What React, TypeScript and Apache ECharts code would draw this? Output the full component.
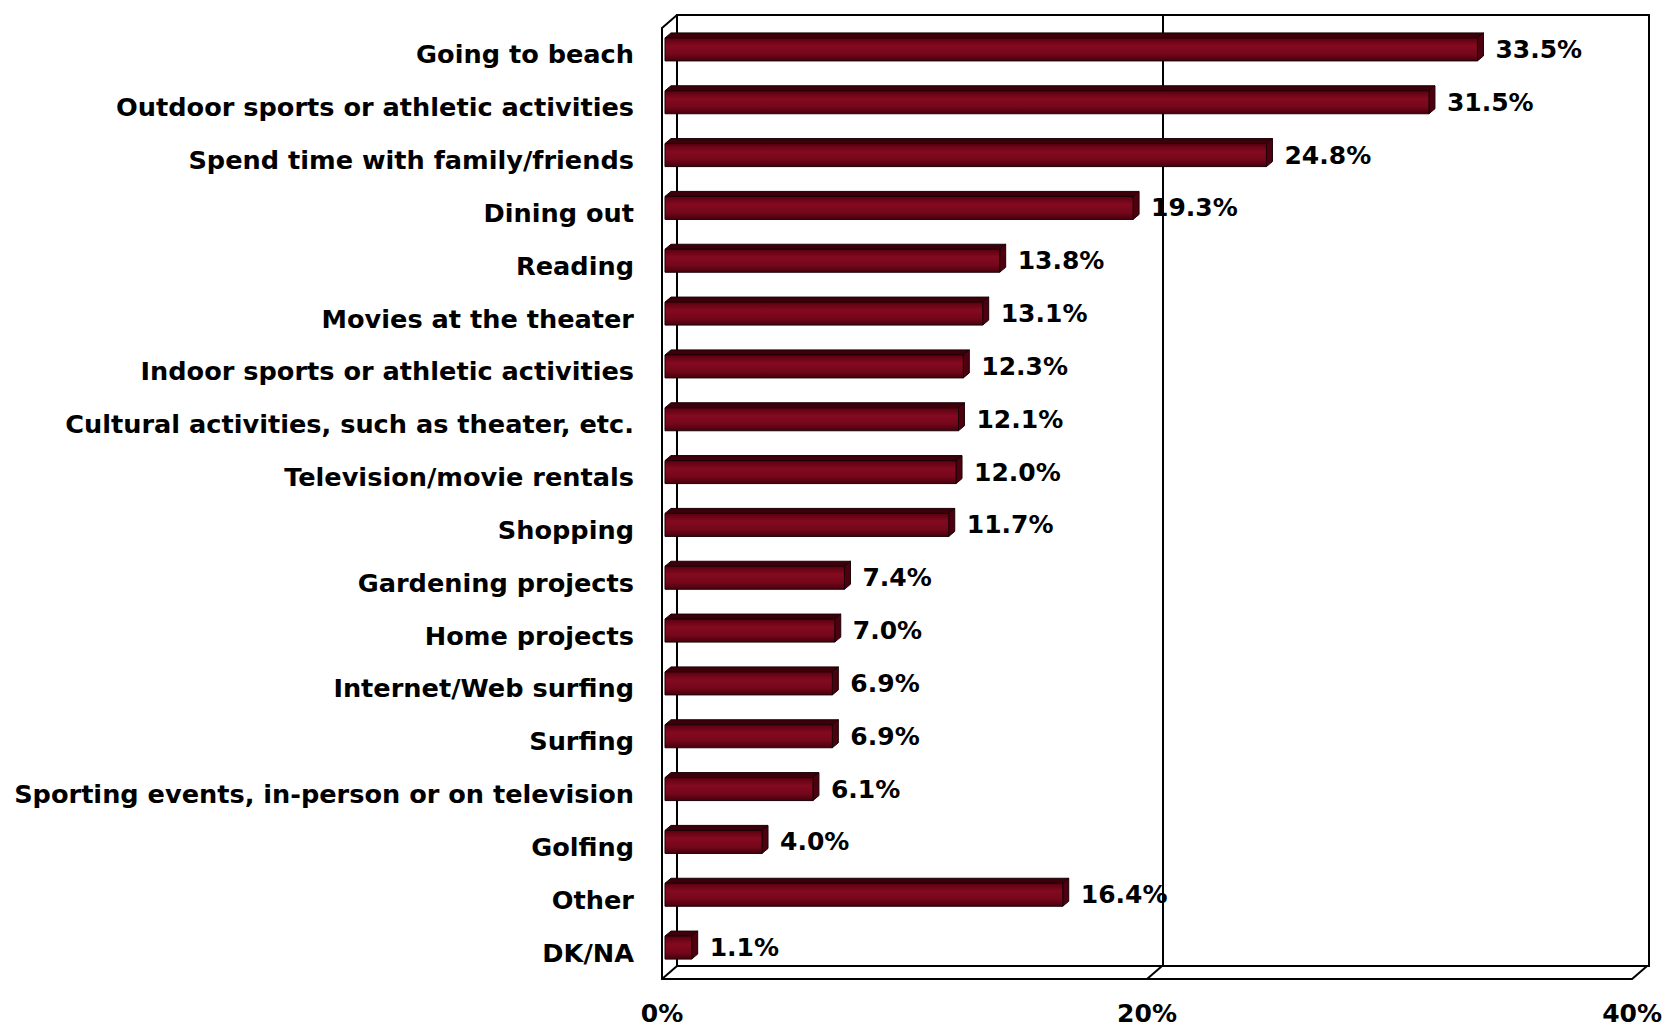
import React, { useEffect, useRef } from "react";
import * as echarts from "echarts";

const categories = [
  "Going to beach",
  "Outdoor sports or athletic activities",
  "Spend time with family/friends",
  "Dining out",
  "Reading",
  "Movies at the theater",
  "Indoor sports or athletic activities",
  "Cultural activities, such as theater, etc.",
  "Television/movie rentals",
  "Shopping",
  "Gardening projects",
  "Home projects",
  "Internet/Web surfing",
  "Surfing",
  "Sporting events, in-person or on television",
  "Golfing",
  "Other",
  "DK/NA",
];
const values = [33.5, 31.5, 24.8, 19.3, 13.8, 13.1, 12.3, 12.1, 12.0, 11.7, 7.4, 7.0, 6.9, 6.9, 6.1, 4.0, 16.4, 1.1];
const xMin = 0;
const xMax = 40;
const xInterval = 20;

const FONT = "DejaVu Sans";
const DEPTH_X = 15;
const DEPTH_Y = 13;

export default function App() {
  const ref = useRef<HTMLDivElement>(null);
  useEffect(() => {
    if (!ref.current) return;
    const chart = echarts.init(ref.current, undefined, { renderer: "svg" });
    const front = { left: 662, top: 28, width: 972, height: 951 };
    const option: any = {
      animation: false,
      backgroundColor: "#ffffff",
      grid: [
        { ...front, containLabel: false },
        {
          left: front.left + DEPTH_X,
          top: front.top - DEPTH_Y,
          width: front.width,
          height: front.height,
          show: true,
          borderColor: "#000",
          borderWidth: 2,
          backgroundColor: "transparent",
        },
      ],
      xAxis: [
        {
          gridIndex: 0,
          type: "value",
          min: xMin,
          max: xMax,
          interval: xInterval,
          axisLine: { show: true, lineStyle: { color: "#000", width: 2 } },
          axisTick: { show: false },
          splitLine: { show: false },
          axisLabel: {
            formatter: "{value}%",
            color: "#000",
            fontFamily: FONT,
            fontWeight: "bold",
            fontSize: 25,
            margin: 22,
          },
        },
        {
          gridIndex: 1,
          type: "value",
          min: xMin,
          max: xMax,
          interval: xInterval,
          axisLine: { show: false },
          axisTick: { show: false },
          axisLabel: { show: false },
          splitLine: { show: true, lineStyle: { color: "#000", width: 2 } },
        },
      ],
      yAxis: [
        {
          gridIndex: 0,
          type: "category",
          inverse: true,
          data: categories,
          axisLine: { show: true, lineStyle: { color: "#000", width: 2 } },
          axisTick: { show: false },
          splitLine: { show: false },
          axisLabel: {
            color: "#000",
            fontFamily: FONT,
            fontWeight: "bold",
            fontSize: 25.6,
            margin: 28,
            interval: 0,
          },
        },
        {
          gridIndex: 1,
          type: "category",
          inverse: true,
          data: categories,
          show: false,
        },
      ],
      series: [
        {
          type: "custom",
          xAxisIndex: 0,
          yAxisIndex: 0,
          encode: { x: 1, y: 0 },
          data: values.map((v, i) => [i, v]),
          z: 10,
          renderItem: (params: any, api: any) => {
            const idx = api.value(0);
            const v = api.value(1);
            const s = api.coord([0, idx]);
            const e = api.coord([v, idx]);
            const dx = 3;
            const dy = -5;
            const h = 23;
            const dd = 6;
            const dd2 = 5;
            const x0 = s[0] + dx;
            const x1 = e[0] + dx;
            const yc = s[1] + dy;
            const y0 = yc - h / 2;
            const y1 = yc + h / 2;
            const stroke = "#1a0005";
            return {
              type: "group",
              children: [
                {
                  type: "polygon",
                  shape: { points: [[x0, y0], [x0 + dd, y0 - dd2], [x1 + dd, y0 - dd2], [x1, y0]] },
                  style: { fill: "#3d000b", stroke, lineWidth: 1 },
                },
                {
                  type: "polygon",
                  shape: { points: [[x1, y0], [x1 + dd, y0 - dd2], [x1 + dd, y1 - dd2], [x1, y1]] },
                  style: { fill: "#4f000f", stroke, lineWidth: 1 },
                },
                {
                  type: "rect",
                  shape: { x: x0, y: y0, width: Math.max(0, x1 - x0), height: h },
                  style: {
                    fill: new echarts.graphic.LinearGradient(0, 0, 0, 1, [
                      { offset: 0, color: "#5a0010" },
                      { offset: 0.35, color: "#840a20" },
                      { offset: 0.7, color: "#75071b" },
                      { offset: 1, color: "#48000c" },
                    ]),
                    stroke,
                    lineWidth: 1,
                  },
                },
                {
                  type: "text",
                  x: x1 + dd + 12,
                  y: yc,
                  style: {
                    text: v.toFixed(1) + "%",
                    fill: "#000",
                    font: "bold 25px 'DejaVu Sans'",
                    verticalAlign: "middle",
                    align: "left",
                  },
                },
              ],
            };
          },
        },
      ],
    };
    chart.setOption(option);

    const yTop = front.top;
    const yBot = front.top + front.height;
    const lines: any[] = [];
    const ls = { stroke: "#000", lineWidth: 2 };
    lines.push({
      type: "line",
      shape: { x1: front.left, y1: yTop, x2: front.left + DEPTH_X, y2: yTop - DEPTH_Y },
      style: ls,
    });
    for (let t = xMin; t <= xMax; t += xInterval) {
      const px = chart.convertToPixel({ xAxisIndex: 0 }, t) as number;
      lines.push({
        type: "line",
        shape: { x1: px, y1: yBot, x2: px + DEPTH_X, y2: yBot - DEPTH_Y },
        style: ls,
      });
    }
    chart.setOption({ graphic: lines });

    return () => chart.dispose();
  }, []);
  return (
    <div
      ref={ref}
      style={{ position: "fixed", left: 0, top: 0, width: 1665, height: 1029, background: "#fff" }}
    />
  );
}
